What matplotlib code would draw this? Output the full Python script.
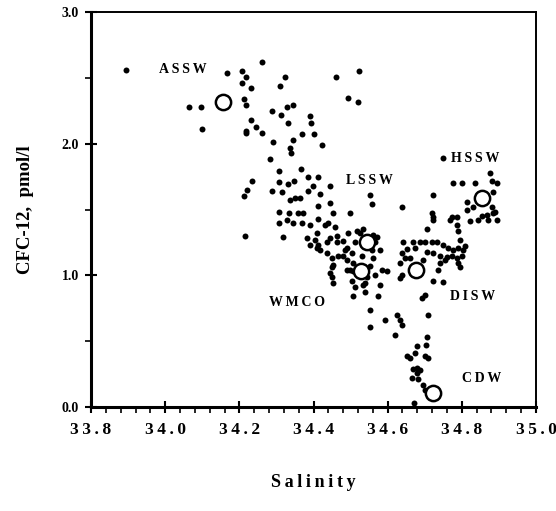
import matplotlib
matplotlib.use("Agg")
import matplotlib.pyplot as plt
from matplotlib.ticker import MultipleLocator

plt.rcParams['font.family'] = ['Liberation Serif', 'DejaVu Serif']
plt.rcParams['font.weight'] = 'bold'

# station samples (salinity, CFC-12)
sal = [
    33.894, 34.064, 34.097, 34.099, 34.167, 34.207, 34.218, 34.207, 34.231, 34.261,
    34.213, 34.218, 34.231, 34.245, 34.218, 34.218, 34.261, 34.310, 34.323, 34.288,
    34.312, 34.329, 34.345, 34.331, 34.391, 34.393, 34.369, 34.401, 34.423, 34.291,
    34.337, 34.345, 34.339, 34.283, 34.307, 34.366, 34.461, 34.523, 34.493, 34.520,
    # 1.2 - 1.8 band
    34.234, 34.221, 34.213, 34.307, 34.288, 34.315, 34.331, 34.347, 34.385, 34.412,
    34.445, 34.399, 34.418, 34.385, 34.337, 34.350, 34.364, 34.412, 34.445, 34.307,
    34.334, 34.358, 34.372, 34.453, 34.498, 34.307, 34.329, 34.345, 34.369, 34.391,
    34.412, 34.439, 34.458, 34.409, 34.463, 34.493, 34.517, 34.534, 34.215, 34.318,
    34.391, 34.412, 34.436, 34.445, 34.409, 34.418, 34.436, 34.463, 34.480, 34.466,
    34.485, 34.450, 34.450, 34.453, 34.490, 34.512, 34.534, 34.539,
    # LSSW / WMCO cluster
    34.558, 34.639, 34.431, 34.404, 34.383, 34.571, 34.579, 34.566, 34.512, 34.490,
    34.480, 34.504, 34.490, 34.507, 34.453, 34.445, 34.450, 34.507, 34.520, 34.544,
    34.566, 34.585, 34.598, 34.579, 34.574, 34.507, 34.552, 34.552, 34.593, 34.625,
    34.633, 34.639, 34.620, 34.526, 34.561, 34.558, 34.531, 34.498, 34.504, 34.539,
    34.552, 34.561,
    # DISW cluster
    34.641, 34.639, 34.633, 34.633, 34.652, 34.660, 34.668, 34.687, 34.701, 34.720,
    34.733, 34.749, 34.763, 34.776, 34.790, 34.803, 34.809, 34.706, 34.722, 34.741,
    34.760, 34.774, 34.787, 34.801, 34.695, 34.741, 34.790, 34.795, 34.736, 34.722,
    34.749, 34.674, 34.795, 34.755, 34.639, 34.647,
    # HSSW arm
    34.722, 34.706, 34.774, 34.787, 34.814, 34.830, 34.854, 34.884, 34.722, 34.720,
    34.722, 34.768, 34.787, 34.790, 34.844, 34.822, 34.871, 34.895, 34.868, 34.890,
    34.881, 34.814, 34.884, 34.895, 34.881, 34.836, 34.801, 34.776, 34.876, 34.749,
    34.552,
    # CDW tail
    34.701, 34.693, 34.709, 34.706, 34.703, 34.679, 34.674, 34.652, 34.660, 34.701,
    34.709, 34.679, 34.687, 34.668, 34.679, 34.666, 34.682, 34.695, 34.701, 34.671,
]
cfc = [
    2.56, 2.28, 2.28, 2.11, 2.54, 2.55, 2.51, 2.46, 2.42, 2.62,
    2.34, 2.29, 2.18, 2.13, 2.10, 2.08, 2.08, 2.44, 2.51, 2.25,
    2.22, 2.28, 2.29, 2.16, 2.21, 2.16, 2.07, 2.07, 1.99, 2.01,
    1.97, 2.03, 1.93, 1.88, 1.79, 1.81, 2.51, 2.55, 2.35, 2.32,
    1.72, 1.65, 1.60, 1.71, 1.64, 1.63, 1.69, 1.72, 1.75, 1.75,
    1.68, 1.68, 1.62, 1.64, 1.57, 1.59, 1.59, 1.53, 1.55, 1.48,
    1.47, 1.47, 1.47, 1.47, 1.47, 1.40, 1.42, 1.40, 1.40, 1.38,
    1.43, 1.40, 1.37, 1.32, 1.30, 1.32, 1.34, 1.35, 1.30, 1.29,
    1.23, 1.23, 1.25, 1.28, 1.21, 1.19, 1.17, 1.25, 1.26, 1.15,
    1.19, 1.06, 0.99, 0.94, 1.04, 0.91, 0.93, 0.87,
    1.54, 1.52, 1.38, 1.27, 1.28, 1.29, 1.19, 1.25, 1.25, 1.21,
    1.15, 1.17, 1.12, 1.09, 1.08, 1.02, 1.13, 1.03, 1.00, 0.99,
    1.00, 1.04, 1.03, 0.93, 0.84, 0.84, 0.74, 0.61, 0.66, 0.70,
    0.66, 0.62, 0.55, 1.32, 1.31, 1.19, 1.15, 1.04, 0.96, 0.94,
    1.07, 1.13,
    1.25, 1.17, 1.09, 0.98, 1.20, 1.13, 1.25, 1.25, 1.25, 1.25,
    1.25, 1.23, 1.21, 1.19, 1.21, 1.19, 1.22, 1.18, 1.17, 1.15,
    1.14, 1.15, 1.13, 1.15, 1.12, 1.09, 1.09, 1.06, 1.04, 0.96,
    0.95, 1.21, 1.27, 1.12, 1.00, 1.13,
    1.44, 1.35, 1.44, 1.38, 1.56, 1.52, 1.45, 1.47, 1.61, 1.47,
    1.42, 1.42, 1.44, 1.34, 1.42, 1.41, 1.42, 1.42, 1.46, 1.48,
    1.52, 1.50, 1.63, 1.70, 1.72, 1.70, 1.70, 1.70, 1.78, 1.89,
    1.61,
    0.85, 0.83, 0.70, 0.53, 0.47, 0.46, 0.41, 0.39, 0.37, 0.39,
    0.37, 0.30, 0.28, 0.29, 0.26, 0.22, 0.21, 0.17, 0.13, 0.03,
]

# water mass end-members (open circles)
wm_sal = [34.156, 34.544, 34.528, 34.676, 34.722, 34.854]
wm_cfc = [2.32, 1.25, 1.03, 1.04, 0.11, 1.59]

labels = ['ASSW', 'LSSW', 'HSSW', 'WMCO', 'DISW', 'CDW']
lab_sal = [34.048, 34.552, 34.836, 34.356, 34.828, 34.854]
lab_cfc = [2.56, 1.72, 1.89, 0.79, 0.84, 0.22]

xticks = [33.8, 34.0, 34.2, 34.4, 34.6, 34.8, 35.0]
yticks = [0.0, 1.0, 2.0, 3.0]

fig = plt.figure(figsize=(5.56, 5.11), dpi=100)
ax = fig.add_axes([0.1637, 0.2035, 0.8003, 0.773])

ax.plot(sal, cfc, 'o', color='black', markersize=4.3, markeredgewidth=0)
ax.plot(wm_sal, wm_cfc, 'o', markerfacecolor='white', markeredgecolor='black',
        markersize=11, markeredgewidth=1.8)

for t, x, y in zip(labels, lab_sal, lab_cfc):
    ax.text(x, y, '\u2009'.join(t), ha='center', va='center', fontsize=10,
            fontweight='bold')

ax.set_xlim(33.8, 35.0)
ax.set_ylim(0.0, 3.0)
ax.set_xticks(xticks)
ax.set_xticklabels(['\u2009'.join(f'{v:.1f}') for v in xticks], fontsize=12.5)
ax.set_yticks(yticks)
ax.set_yticklabels([f'{v:.1f}' for v in yticks], fontsize=10)
ax.xaxis.set_minor_locator(MultipleLocator(0.04))
ax.yaxis.set_minor_locator(MultipleLocator(0.5))
ax.tick_params(which='major', direction='inout', length=9, width=1.5, pad=6)
ax.tick_params(which='minor', direction='out', length=4, width=1.2)
ax.tick_params(axis='y', which='major', pad=4)

for side in ['left', 'bottom']:
    ax.spines[side].set_linewidth(2.2)
for side in ['top', 'right']:
    ax.spines[side].set_linewidth(1.4)

ax.set_xlabel('\u2009'.join('Salinity'), fontsize=13, fontweight='bold', labelpad=26)
ax.set_ylabel('CFC-12,  pmol/l', fontsize=13.5, fontweight='bold', labelpad=20)

fig.savefig('out.png', dpi=100)
